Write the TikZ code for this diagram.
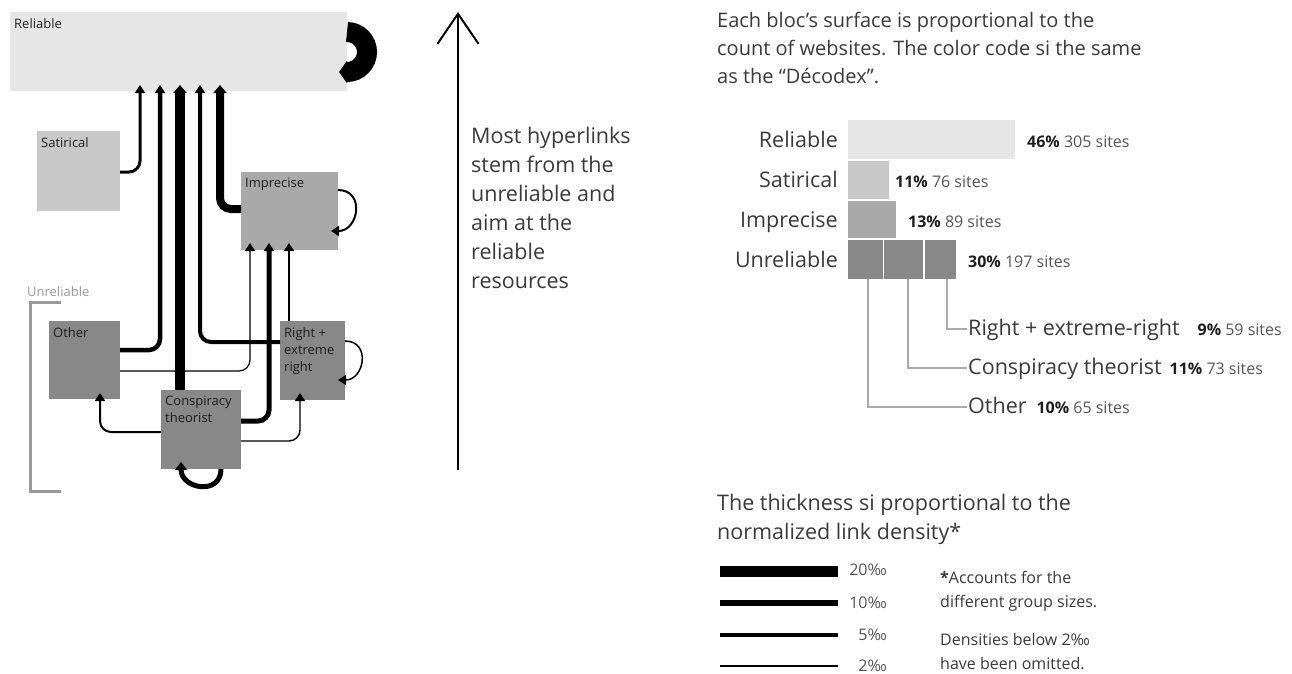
\documentclass[tikz,border=0pt]{standalone}
\usepackage{fontspec}
\setmainfont{Open Sans}
\usetikzlibrary{arrows.meta,calc}
\definecolor{relc}{HTML}{E6E6E6}
\definecolor{satc}{HTML}{C8C8C8}
\definecolor{impc}{HTML}{A9A9A9}
\definecolor{unrc}{HTML}{888888}
\definecolor{txtc}{HTML}{3A3A3A}
\definecolor{lblc}{HTML}{1E1E1E}
\definecolor{brkc}{HTML}{9A9A9A}
\definecolor{leadc}{HTML}{ABABAB}
\definecolor{numc}{HTML}{555555}
\begin{document}
\begin{tikzpicture}[x=1pt,y=-1pt,
  blk/.style={inner sep=0pt, outer sep=0pt, draw=none},
  blab/.style={font=\fontsize{13}{17}\selectfont, text=lblc, inner sep=0pt, anchor=north west, align=left, xshift=4pt, yshift=-6pt},
  lnk/.style={line width=#1, rounded corners=11pt},
  hd/.style={-{Triangle[width=10pt,length=8pt]}},
  hdbig/.style={-{Triangle[width=13pt,length=8pt]}},
  big/.style={font=\fontsize{21.5}{29}\selectfont, text=txtc, inner sep=0pt, anchor=north west, align=left},
  mid/.style={font=\fontsize{20}{28}\selectfont, text=txtc, inner sep=0pt, anchor=north west, align=left},
  lab/.style={font=\fontsize{21.5}{26}\selectfont, text=txtc, inner sep=0pt},
  val/.style={font=\fontsize{16}{20}\selectfont, text=numc, inner sep=0pt, anchor=base west},
  small/.style={font=\fontsize{16}{24.5}\selectfont, text=txtc, inner sep=0pt, anchor=north west, align=left},
  leader/.style={draw=leadc, line width=1.4pt},
]
\useasboundingbox (0,0) rectangle (1292,673);

% ---------- left diagram: blocks ----------
\node[blk, fill=relc, minimum width=337pt, minimum height=79pt, label={[blab]north west:Reliable}] (rel) at (178.5,51.5) {};
\node[blk, fill=satc, minimum width=83pt, minimum height=80pt, label={[blab]north west:Satirical}] (sat) at (78.5,171) {};
\node[blk, fill=impc, minimum width=97pt, minimum height=78pt, label={[blab]north west:Imprecise}] (imp) at (289.5,211) {};
\node[blk, fill=unrc, minimum width=71pt, minimum height=78pt, label={[blab]north west:Other}] (oth) at (84.5,360) {};
\node[blk, fill=unrc, minimum width=80pt, minimum height=79pt, label={[blab]north west:Conspiracy\\theorist}] (con) at (201,429.5) {};
\node[blk, fill=unrc, minimum width=65pt, minimum height=79pt, label={[blab]north west:Right +\\extreme\\right}] (rgt) at (312.5,360.5) {};

% unreliable bracket
\draw[brkc, line width=3pt] (61,302.5) -- (30,302.5) -- (30,491) -- (61,491);
\node[font=\fontsize{13}{15}\selectfont, text=brkc, anchor=base west, inner sep=0pt] (unrl) at (27,296) {Unreliable};

% ---------- links into Reliable ----------
\draw[lnk=3pt, hd] ($(sat.east)+(0,1)$) -| ($(rel.south west)+(130,-6)$);
\draw[lnk=4.5pt, hd] ($(oth.east)+(0,-10)$) -| ($(rel.south west)+(150,-6)$);
\draw[line width=10pt, hdbig] ($(con.north west)+(19,0)$) -- ($(rel.south west)+(170,-6)$);
\draw[lnk=4pt, hd] ($(rgt.west)+(0,-18.5)$) -| ($(rel.south west)+(190,-6)$);
\draw[lnk=8pt, hdbig] ($(imp.west)+(0,-2)$) -| ($(rel.south west)+(210,-6)$);

% ---------- links into Imprecise ----------
\draw[lnk=1.2pt, hd] ($(oth.east)+(0,11)$) -| ($(imp.south west)+(9,-7)$);
\draw[lnk=5pt, hd] ($(con.east)+(0,-8.5)$) -| ($(imp.south west)+(28,-7)$);
\draw[line width=2pt, hd] ($(rgt.north west)+(9,0)$) -- ($(imp.south west)+(48,-7)$);

% ---------- other links ----------
\draw[lnk=2pt, hd] ($(con.west)+(0,2.5)$) -| ($(oth.south west)+(51,-6)$);
\draw[lnk=1.4pt, hd] ($(con.east)+(0,11.5)$) -| ($(rgt.south west)+(20,-7)$);

% ---------- self loops ----------
\draw[line width=20pt, -{Triangle[width=22pt,length=8pt]}] ($(rel.east)+(0,-19.5)$) arc[start angle=90,end angle=-90,radius=20pt] -- ++(-8,0);
\draw[line width=2pt, hd] ($(imp.east)+(0,-21)$) to[out=0,in=0,looseness=1.7] ($(imp.east)+(-7,20)$);
\draw[line width=1.5pt, hd] ($(rgt.east)+(0,-19.5)$) to[out=0,in=0,looseness=1.7] ($(rgt.east)+(-7,19.5)$);
\draw[line width=5pt, -{Triangle[width=12pt,length=8pt]}] ($(con.south)+(20,0)$) to[out=-90,in=-90,looseness=1.7] ($(con.south)+(-20,-7)$);

% ---------- central arrow and message ----------
\coordinate (vbot) at (458,470);
\coordinate (vtop) at (458,12);
\draw[line width=2pt, -{Straight Barb[length=30pt,width=41pt]}] (vbot) -- (vtop);
\node[big] (msg) at (471,127) {Most hyperlinks\\stem from the\\unreliable and\\aim at the\\reliable\\resources};

% ---------- right: sizes ----------
\node[mid] (ttl) at (717,12) {Each bloc’s surface is proportional to the\\count of websites. The color code si the same\\as the “Décodex”.};

\node[blk, fill=relc, minimum width=167pt, minimum height=39pt] (rb) at (931.5,139.5) {};
\node[blk, fill=satc, minimum width=41pt, minimum height=38pt] (sb) at (868.5,180) {};
\node[blk, fill=impc, minimum width=48pt, minimum height=37pt] (ib) at (872,219.5) {};
\node[blk, fill=unrc, minimum width=35pt, minimum height=39pt] (u1) at (865.5,259.5) {};
\node[blk, fill=unrc, minimum width=39pt, minimum height=39pt] (u2) at (903.5,259.5) {};
\node[blk, fill=unrc, minimum width=31pt, minimum height=39pt] (u3) at (940.5,259.5) {};

\node[lab, anchor=base east] (lrel) at (838,147) {Reliable};
\node[lab, anchor=base east] (lsat) at (838,187) {Satirical};
\node[lab, anchor=base east] (limp) at (838,227) {Imprecise};
\node[lab, anchor=base east] (lunr) at (838,267) {Unreliable};

\node[val] (vrel) at (1027,147) {\textbf{\textcolor{lblc}{46\%}} 305 sites};
\node[val] (vsat) at (895,187) {\textbf{\textcolor{lblc}{11\%}} 76 sites};
\node[val] (vimp) at (908,227) {\textbf{\textcolor{lblc}{13\%}} 89 sites};
\node[val] (vunr) at (968,267) {\textbf{\textcolor{lblc}{30\%}} 197 sites};

\node[lab, anchor=base west] (lrgt) at (968,335) {Right + extreme-right\hspace{18pt}{\fontsize{16}{20}\selectfont\textbf{\textcolor{lblc}{9\%}} \textcolor{numc}{59 sites}}};
\node[lab, anchor=base west] (lcon) at (968,374) {Conspiracy theorist\hspace{8pt}{\fontsize{16}{20}\selectfont\textbf{\textcolor{lblc}{11\%}} \textcolor{numc}{73 sites}}};
\node[lab, anchor=base west] (loth) at (968,413) {Other\hspace{10pt}{\fontsize{16}{20}\selectfont\textbf{\textcolor{lblc}{10\%}} \textcolor{numc}{65 sites}}};

\draw[leader] ($(u3.south)+(6.5,0)$) |- ($(lrgt.base west)+(-1,-6)$);
\draw[leader] ($(u2.south)+(4.5,0)$) |- ($(lcon.base west)+(-1,-6)$);
\draw[leader] ($(u1.south)+(2.5,0)$) |- ($(loth.base west)+(-1,-6)$);

% ---------- right: thickness legend ----------
\node[big] (thk) at (717,494) {The thickness si proportional to the\\normalized link density*};

\coordinate (a20) at (720,571); \coordinate (b20) at (838,571);
\coordinate (a10) at (720,603); \coordinate (b10) at (838,603);
\coordinate (a05) at (720,635); \coordinate (b05) at (838,635);
\coordinate (a02) at (720,666); \coordinate (b02) at (838,666);
\draw[line width=11pt] (a20) -- (b20);
\draw[line width=6pt] (a10) -- (b10);
\draw[line width=3.5pt] (a05) -- (b05);
\draw[line width=1.5pt] (a02) -- (b02);

\node[val, anchor=base east] (t20) at (887,575) {20‰};
\node[val, anchor=base east] (t10) at (887,608) {10‰};
\node[val, anchor=base east] (t05) at (887,640) {5‰};
\node[val, anchor=base east] (t02) at (887,671) {2‰};

\node[small] (nt1) at (940,571) {\textbf{*}Accounts for the\\different group sizes.};
\node[small] (nt2) at (940,633) {Densities below 2‰\\have been omitted.};
\end{tikzpicture}
\end{document}
